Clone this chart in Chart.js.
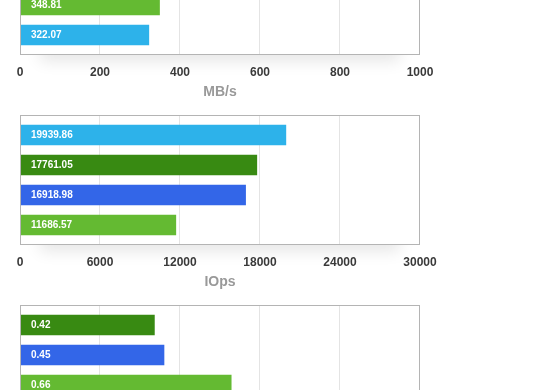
<!DOCTYPE html>
<html>
<head>
<meta charset="utf-8">
<script src="https://cdn.jsdelivr.net/npm/chart.js@4"></script>
<style>
  html, body { margin: 0; padding: 0; background: #fff; }
  #page { position: relative; width: 560px; height: 390px; overflow: hidden; }
  .panel { position: absolute; left: 0; width: 560px; height: 190px; }
</style>
</head>
<body>
<div id="page">
  <div class="panel" style="top:-85px"><canvas id="c-mbps" width="560" height="190"></canvas></div>
  <div class="panel" style="top:105px"><canvas id="c-iops" width="560" height="190"></canvas></div>
  <div class="panel" style="top:295px"><canvas id="c-lat" width="560" height="190"></canvas></div>
</div>
<script>
/* ---------- data ---------- */
const driveColors = {
  'Drive A': '#2db2ea',
  'Drive B': '#388a12',
  'Drive C': '#3366e8',
  'Drive D': '#64ba32'
};

// throughput (top two bars are cut off in the picture, estimated)
const mbpsLabels = ['Drive B', 'Drive C', 'Drive D', 'Drive A'];
const mbpsValues = [401.3, 372.6, 348.81, 322.07];
const mbpsTicks = { max: 1000, step: 200 };

// iops
const iopsLabels = ['Drive A', 'Drive B', 'Drive C', 'Drive D'];
const iopsValues = [19939.86, 17761.05, 16918.98, 11686.57];
const iopsTicks = { max: 30000, step: 6000 };

// latency (last bar is below the visible area, estimated)
const latLabels = ['Drive B', 'Drive C', 'Drive D', 'Drive A'];
const latValues = [0.42, 0.45, 0.66, 0.71];
const latTicks = { max: 1.25, step: 0.25 };

Chart.defaults.font.family = "'Liberation Sans', Arial, Helvetica, sans-serif";

// frame, grid, soft shadow and in-bar value labels
const framePlugin = {
  id: 'frame',
  beforeDraw(chart) {
    const { ctx, chartArea: a } = chart;
    ctx.save();
    ctx.shadowColor = 'rgba(0,0,0,0.10)';
    ctx.shadowBlur = 16;
    ctx.shadowOffsetY = 7;
    ctx.fillStyle = '#fff';
    ctx.fillRect(a.left + 20, a.bottom - 20, a.width - 40, 24);
    ctx.restore();
    ctx.fillStyle = '#fff';
    ctx.fillRect(a.left, a.top - 5, a.width, a.height + 9);
  },
  beforeDatasetsDraw(chart) {
    const { ctx, chartArea: a, scales: { x } } = chart;
    ctx.save();
    ctx.strokeStyle = '#e4e4e4';
    ctx.lineWidth = 1;
    x.ticks.forEach(t => {
      const px = Math.round(x.getPixelForValue(t.value)) - 0.5;
      if (px <= a.left + 1 || px >= a.right - 1) return;
      ctx.beginPath();
      ctx.moveTo(px, a.top - 5);
      ctx.lineTo(px, a.bottom + 4);
      ctx.stroke();
    });
    ctx.restore();
  },
  afterDatasetsDraw(chart) {
    const { ctx, chartArea: a } = chart;
    ctx.save();
    ctx.fillStyle = '#fff';
    ctx.font = "bold 10px 'Liberation Sans', Arial, sans-serif";
    ctx.textBaseline = 'middle';
    ctx.textAlign = 'left';
    const meta = chart.getDatasetMeta(0);
    const vals = chart.data.datasets[0].data;
    meta.data.forEach((bar, i) => {
      ctx.fillText(String(vals[i]), bar.base + 11, bar.y + 0.5);
    });
    ctx.strokeStyle = '#b4b4b4';
    ctx.lineWidth = 1;
    ctx.strokeRect(a.left + 0.5, a.top - 4.5, a.width - 1, a.height + 9);
    ctx.restore();
  }
};

function makeChart(id, labels, values, ticks, title) {
  return new Chart(document.getElementById(id), {
    type: 'bar',
    data: {
      labels: labels,
      datasets: [{
        data: values,
        backgroundColor: labels.map(l => driveColors[l]),
        borderWidth: 0,
        barThickness: 20
      }]
    },
    options: {
      indexAxis: 'y',
      responsive: false,
      animation: false,
      layout: { padding: { left: 20, right: 140, top: 15, bottom: 0 } },
      plugins: { legend: { display: false }, tooltip: { enabled: false } },
      scales: {
        y: { display: false },
        x: {
          min: 0,
          max: ticks.max,
          grid: { display: false, drawTicks: false },
          border: { display: false },
          ticks: {
            stepSize: ticks.step,
            padding: 15,
            color: '#3a3a3a',
            font: { size: 12, weight: 'bold' },
            callback: v => String(v)
          },
          title: {
            display: true,
            text: title,
            color: '#999',
            font: { size: 14, weight: 'bold' },
            padding: { top: 0, bottom: 4 }
          },
          afterFit: (scale) => { scale.height = 55; }
        }
      }
    },
    plugins: [framePlugin]
  });
}

makeChart('c-mbps', mbpsLabels, mbpsValues, mbpsTicks, 'MB/s');
makeChart('c-iops', iopsLabels, iopsValues, iopsTicks, 'IOps');
makeChart('c-lat', latLabels, latValues, latTicks, 'ms');
</script>
</body>
</html>
